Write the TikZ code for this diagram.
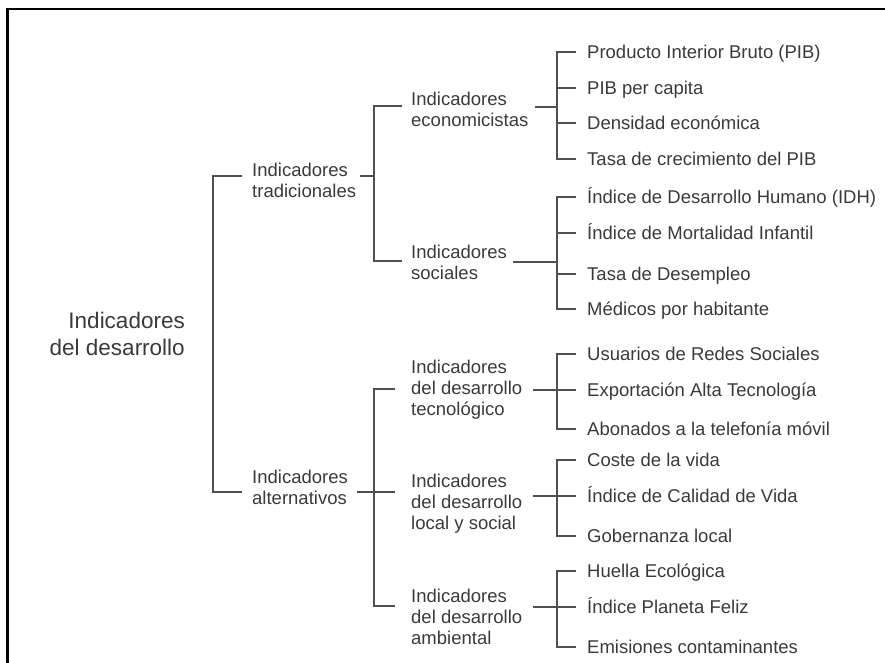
\documentclass[tikz,border=0pt]{standalone}
\usepackage{fontspec}
\setmainfont{Liberation Sans}
\definecolor{inkgray}{HTML}{3A3A3A}
\definecolor{linegray}{HTML}{505050}

\begin{document}
\begin{tikzpicture}[x=1pt, y=-1pt,
  leaf/.style={anchor=west, inner sep=0pt, text height=13pt, text depth=0pt, text=inkgray, font=\fontsize{18.5}{21}\selectfont},
  group/.style={anchor=north west, inner sep=0pt, align=left, text=inkgray, font=\fontsize{18.5}{21}\selectfont},
  branch/.style={draw=linegray, line width=1.35pt}]

% Fix the picture size
\useasboundingbox (0,0) rectangle (885,663);

% Frame, cut at right and bottom
\draw[line width=2.2pt] (7.5,663) -- (7.5,9) -- (885,9);

% Root
\node[group, anchor=north east, align=right, font=\fontsize{22.5}{26.5}\selectfont] (root) at (185,312) {Indicadores\\del desarrollo};

% Level 1
\node[group] (trad) at (252,163) {Indicadores\\tradicionales};
\node[group] (alt) at (252,470) {Indicadores\\alternativos};

% Level 2
\node[group] (econ) at (411,92) {Indicadores\\economicistas};
\node[group] (soc) at (411,245) {Indicadores\\sociales};
\node[group] (tec) at (411,360) {Indicadores\\del desarrollo\\tecnológico};
\node[group] (loc) at (411,474) {Indicadores\\del desarrollo\\local y social};
\node[group] (amb) at (411,589) {Indicadores\\del desarrollo\\ambiental};

% Leaves
\node[leaf] (pib) at (587,52) {Producto Interior Bruto (PIB)};
\node[leaf] (pibpc) at (587,88) {PIB per capita};
\node[leaf] (densidad) at (587,123) {Densidad económica};
\node[leaf] (tasapib) at (587,159) {Tasa de crecimiento del PIB};

\node[leaf] (idh) at (587,197) {Índice de Desarrollo Humano (IDH)};
\node[leaf] (mortalidad) at (587,233) {Índice de Mortalidad Infantil};
\node[leaf] (desempleo) at (587,274) {Tasa de Desempleo};
\node[leaf] (medicos) at (587,309) {Médicos por habitante};

\node[leaf] (usuarios) at (587,354) {Usuarios de Redes Sociales};
\node[leaf] (exportacion) at (587,390) {Exportación Alta Tecnología};
\node[leaf] (abonados) at (587,429) {Abonados a la telefonía móvil};

\node[leaf] (coste) at (587,460) {Coste de la vida};
\node[leaf] (calidad) at (587,496) {Índice de Calidad de Vida};
\node[leaf] (gobernanza) at (587,536) {Gobernanza local};

\node[leaf] (huella) at (587,571) {Huella Ecológica};
\node[leaf] (planeta) at (587,607) {Índice Planeta Feliz};
\node[leaf] (emisiones) at (587,647) {Emisiones contaminantes};

% Spines of the brackets
\coordinate (s1) at (213,176);
\coordinate (s2) at (213,492);
\coordinate (s3) at (374,106);
\coordinate (s4) at (374,261);
\coordinate (s5) at (374,389);
\coordinate (s6) at (374,606);
\coordinate (econsp) at (557,107);
\coordinate (socsp) at (557,262);
\coordinate (tecsp) at (557,390);
\coordinate (locsp) at (557,496);
\coordinate (ambsp) at (557,607);

% Level 1 bracket
\draw[branch] ([xshift=-10pt]trad.west |- s1) -- (s1) -- (s2) -- ([xshift=-10pt]alt.west |- s2);

% Traditional branch
\draw[branch] (trad.east |- s1) ++(4,0) -- (s1 -| s3);
\draw[branch] ([xshift=-9pt]econ.west |- s3) -- (s3) -- (s4) -- ([xshift=-9pt]soc.west |- s4);

% Alternative branch
\draw[branch] (alt.east |- s2) ++(9,0) -- ([xshift=-16pt]loc.west |- s2);
\draw[branch] ([xshift=-16pt]tec.west |- s5) -- (s5) -- (s6) -- ([xshift=-16pt]amb.west |- s6);

% Group to leaves
\foreach \grp/\spine/\gap in {econ/econsp/6, soc/socsp/6, tec/tecsp/11, loc/locsp/11, amb/ambsp/11}
  \draw[branch] (\grp.east |- \spine) ++(\gap,0) -- (\spine);

\foreach \first/\last/\spine in {pib/tasapib/econsp, idh/medicos/socsp, usuarios/abonados/tecsp, coste/gobernanza/locsp, huella/emisiones/ambsp}
  \draw[branch] ([xshift=-11pt]\first.west) -- (\first.west -| \spine) -- (\last.west -| \spine) -- ([xshift=-11pt]\last.west);

\foreach \lf/\spine in {pibpc/econsp, densidad/econsp, mortalidad/socsp, desempleo/socsp, exportacion/tecsp, calidad/locsp, planeta/ambsp}
  \draw[branch] (\lf.west -| \spine) -- ([xshift=-11pt]\lf.west);

\end{tikzpicture}
\end{document}
